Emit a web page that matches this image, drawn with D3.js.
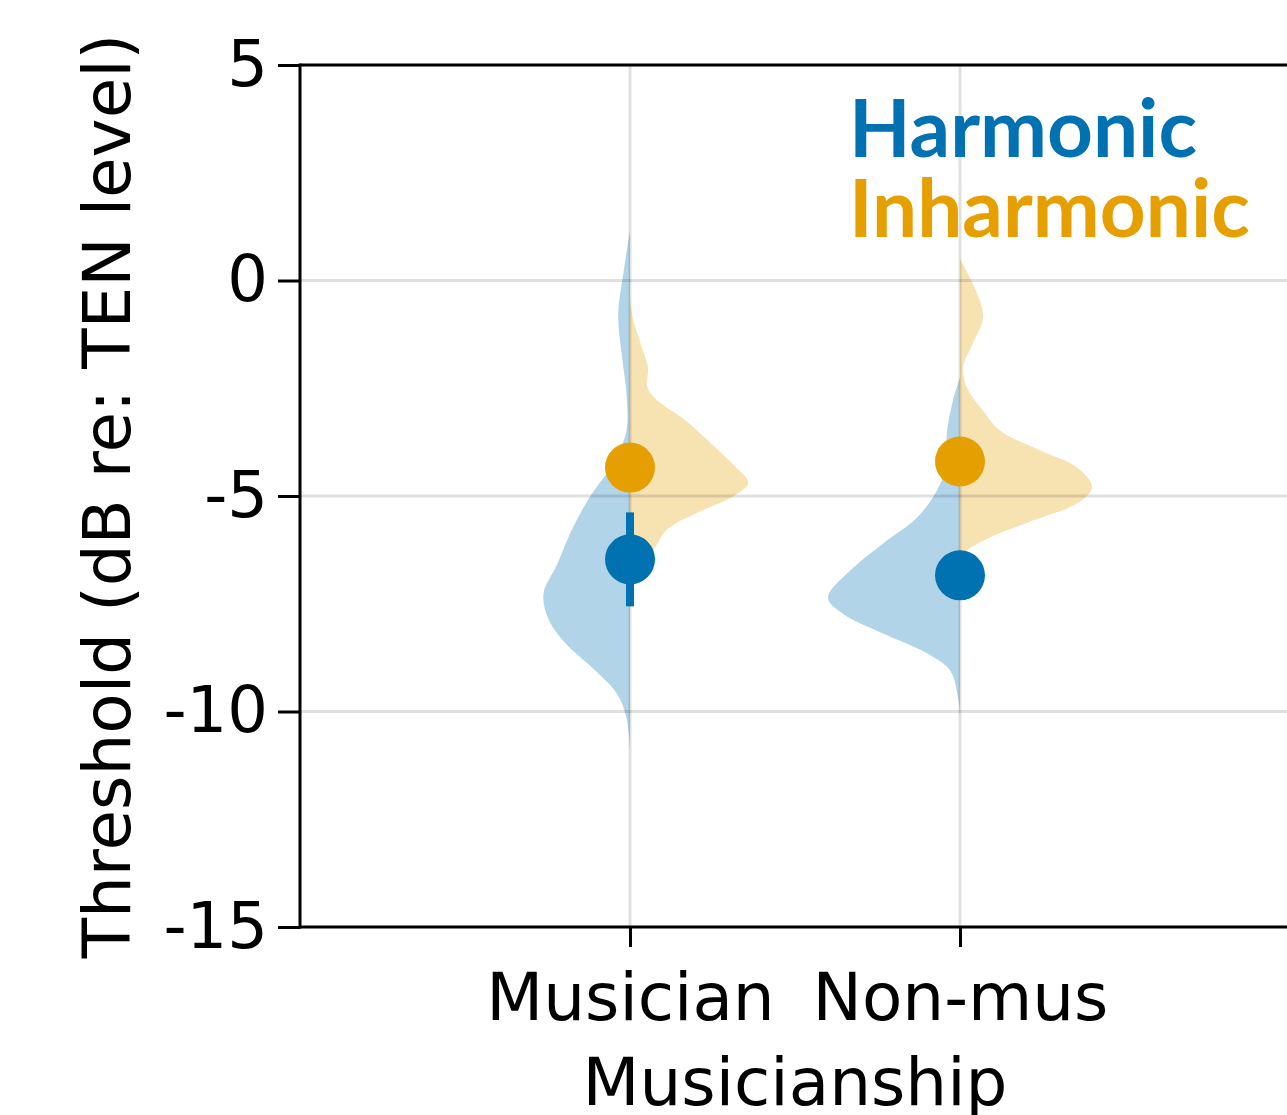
<!DOCTYPE html>
<html>
<head>
<meta charset="utf-8">
<script src="https://cdn.jsdelivr.net/npm/d3@7"></script>
<style>
  html, body { margin: 0; padding: 0; background: #fff; }
  svg { display: block; }
</style>
</head>
<body>
<svg id="chart" width="1287" height="1115"></svg>
<script>
// ---------------- data ----------------
const categories = ["Musician", "Non-mus"];
const conditions = ["Harmonic", "Inharmonic"];
const yTicks = [-15, -10, -5, 0, 5];
const xLabel = "Musicianship";
const yLabel = "Threshold (dB re: TEN level)";

const meanHarmonic = [-6.47, -6.84];
const ciHarmonic = [[-7.56, -5.38], [-7.25, -6.43]];
const meanInharmonic = [-4.34, -4.20];
const ciInharmonic = [[-4.75, -3.93], [-4.6, -3.8]];

// density estimates: [threshold value, density]
const densMusicianHarmonic = [
  [1.15, 0], [0.12, 0.021], [-0.79, 0.036], [-1.79, 0.024], [-2.69, 0.010],
  [-3.53, 0.012], [-4.36, 0.061], [-5.01, 0.121], [-5.78, 0.176], [-6.59, 0.221],
  [-7.26, 0.262], [-7.84, 0.248], [-8.42, 0.195], [-9.00, 0.112], [-9.58, 0.040],
  [-10.16, 0.010], [-10.9, 0]
];
const densMusicianInharmonic = [
  [-0.4, 0], [-0.88, 0.009], [-1.62, 0.039], [-2.04, 0.055], [-2.46, 0.052],
  [-2.78, 0.082], [-3.20, 0.161], [-3.69, 0.233], [-4.27, 0.312], [-4.69, 0.358],
  [-5.01, 0.312], [-5.36, 0.212], [-5.78, 0.112], [-6.26, 0.070], [-6.55, 0.03], [-6.8, 0]
];
const densNonmusHarmonic = [
  [-2.25, 0], [-2.78, 0.021], [-3.48, 0.039], [-4.41, 0.045], [-4.87, 0.070],
  [-5.50, 0.130], [-6.10, 0.233], [-6.73, 0.333], [-7.36, 0.400], [-7.73, 0.355],
  [-8.19, 0.233], [-8.65, 0.100], [-9.05, 0.030], [-9.68, 0.006], [-10.1, 0]
];
const densNonmusInharmonic = [
  [0.5, 0], [-0.30, 0.052], [-0.86, 0.070], [-1.46, 0.039], [-2.02, 0.009],
  [-2.48, 0.021], [-3.02, 0.070], [-3.48, 0.121], [-3.94, 0.242], [-4.34, 0.355],
  [-4.80, 0.400], [-5.17, 0.355], [-5.57, 0.221], [-5.96, 0.091], [-6.26, 0.021], [-6.45, 0]
];

// ---------------- layout ----------------
const blue = "#0072B2", orange = "#E69F00";
const svg = d3.select("#chart");
const L = 300, R = 1290, T = 65, B = 927;

const x = d3.scaleLinear().domain([0, 3]).range([L, R]);
const y = d3.scaleLinear().domain([-15, 5]).range([B, T]);
const catPos = d3.scalePoint().domain(categories).range([1, 2]);

const violins = [
  { cat: "Musician", side: -1, color: blue, dens: densMusicianHarmonic },
  { cat: "Musician", side: 1, color: orange, dens: densMusicianInharmonic },
  { cat: "Non-mus", side: -1, color: blue, dens: densNonmusHarmonic },
  { cat: "Non-mus", side: 1, color: orange, dens: densNonmusInharmonic }
];

const gViol = svg.append("g");
violins.forEach(v => {
  const c = catPos(v.cat);
  const area = d3.area()
    .curve(d3.curveCatmullRom.alpha(0.5))
    .y(d => y(d[0]))
    .x0(() => x(c))
    .x1(d => x(c + v.side * d[1]));
  gViol.append("path")
    .datum(v.dens)
    .attr("d", area)
    .attr("fill", v.color)
    .attr("fill-opacity", 0.3);
});

// gridlines
const gGrid = svg.append("g");
gGrid.selectAll("line.h").data(yTicks.filter(t => t > -15 && t < 5)).join("line")
  .attr("x1", L).attr("x2", R).attr("y1", d => y(d)).attr("y2", d => y(d))
  .attr("stroke", "rgba(0,0,0,0.12)").attr("stroke-width", 3);
gGrid.selectAll("line.v").data(categories).join("line")
  .attr("x1", d => x(catPos(d))).attr("x2", d => x(catPos(d)))
  .attr("y1", T).attr("y2", B)
  .attr("stroke", "rgba(0,0,0,0.12)").attr("stroke-width", 3);

// error bars and means
const gPts = svg.append("g");
const series = [
  { mean: meanHarmonic, ci: ciHarmonic, color: blue },
  { mean: meanInharmonic, ci: ciInharmonic, color: orange }
];
series.forEach(s => {
  categories.forEach((cat, i) => {
    const cx = x(catPos(cat));
    gPts.append("line")
      .attr("x1", cx).attr("x2", cx)
      .attr("y1", y(s.ci[i][0])).attr("y2", y(s.ci[i][1]))
      .attr("stroke", s.color).attr("stroke-width", 8);
    gPts.append("circle")
      .attr("cx", cx).attr("cy", y(s.mean[i])).attr("r", 25)
      .attr("fill", s.color);
  });
});

// axes
const font = "DejaVu Sans";
const yAxis = d3.axisLeft(y).tickValues(yTicks).tickSize(22).tickPadding(10).tickFormat(d3.format("d"));
const gy = svg.append("g").attr("transform", `translate(${L},0)`).call(yAxis);
gy.select(".domain").remove();
gy.selectAll(".tick line").attr("stroke", "#000").attr("stroke-width", 3);
gy.selectAll(".tick text").attr("font-family", font).attr("font-size", 64).attr("fill", "#000")
  .text(d => d < 0 ? "-" + Math.abs(d) : d);

const xAxis = d3.axisBottom(d3.scaleLinear().domain(x.domain()).range(x.range()))
  .tickValues(categories.map(c => catPos(c))).tickSize(20).tickPadding(26)
  .tickFormat((d, i) => categories[i]);
const gx = svg.append("g").attr("transform", `translate(0,${B})`).call(xAxis);
gx.select(".domain").remove();
gx.selectAll(".tick line").attr("stroke", "#000").attr("stroke-width", 3);
gx.selectAll(".tick text").attr("font-family", font).attr("font-size", 66).attr("fill", "#000");

// frame
svg.append("line").attr("x1", L).attr("x2", L).attr("y1", T - 1.5).attr("y2", B + 1.5)
  .attr("stroke", "#000").attr("stroke-width", 3);
svg.append("line").attr("x1", L).attr("x2", R).attr("y1", T).attr("y2", T)
  .attr("stroke", "#000").attr("stroke-width", 3);
svg.append("line").attr("x1", L).attr("x2", R).attr("y1", B).attr("y2", B)
  .attr("stroke", "#000").attr("stroke-width", 3);

// axis labels
svg.append("text").attr("x", (L + R) / 2).attr("y", 1105)
  .attr("text-anchor", "middle").attr("font-family", font).attr("font-size", 66)
  .text(xLabel);
svg.append("text").attr("transform", `translate(130,${(T + B) / 2}) rotate(-90)`)
  .attr("text-anchor", "middle").attr("font-family", font).attr("font-size", 66)
  .text(yLabel);

// legend
const legColors = [blue, orange];
const leg = svg.append("g");
conditions.forEach((c, i) => {
  leg.append("text").attr("x", 849).attr("y", 157 + i * 80)
    .attr("font-family", "Lato").attr("font-weight", "bold").attr("font-size", 80)
    .attr("fill", legColors[i]).text(c);
});
</script>
</body>
</html>
